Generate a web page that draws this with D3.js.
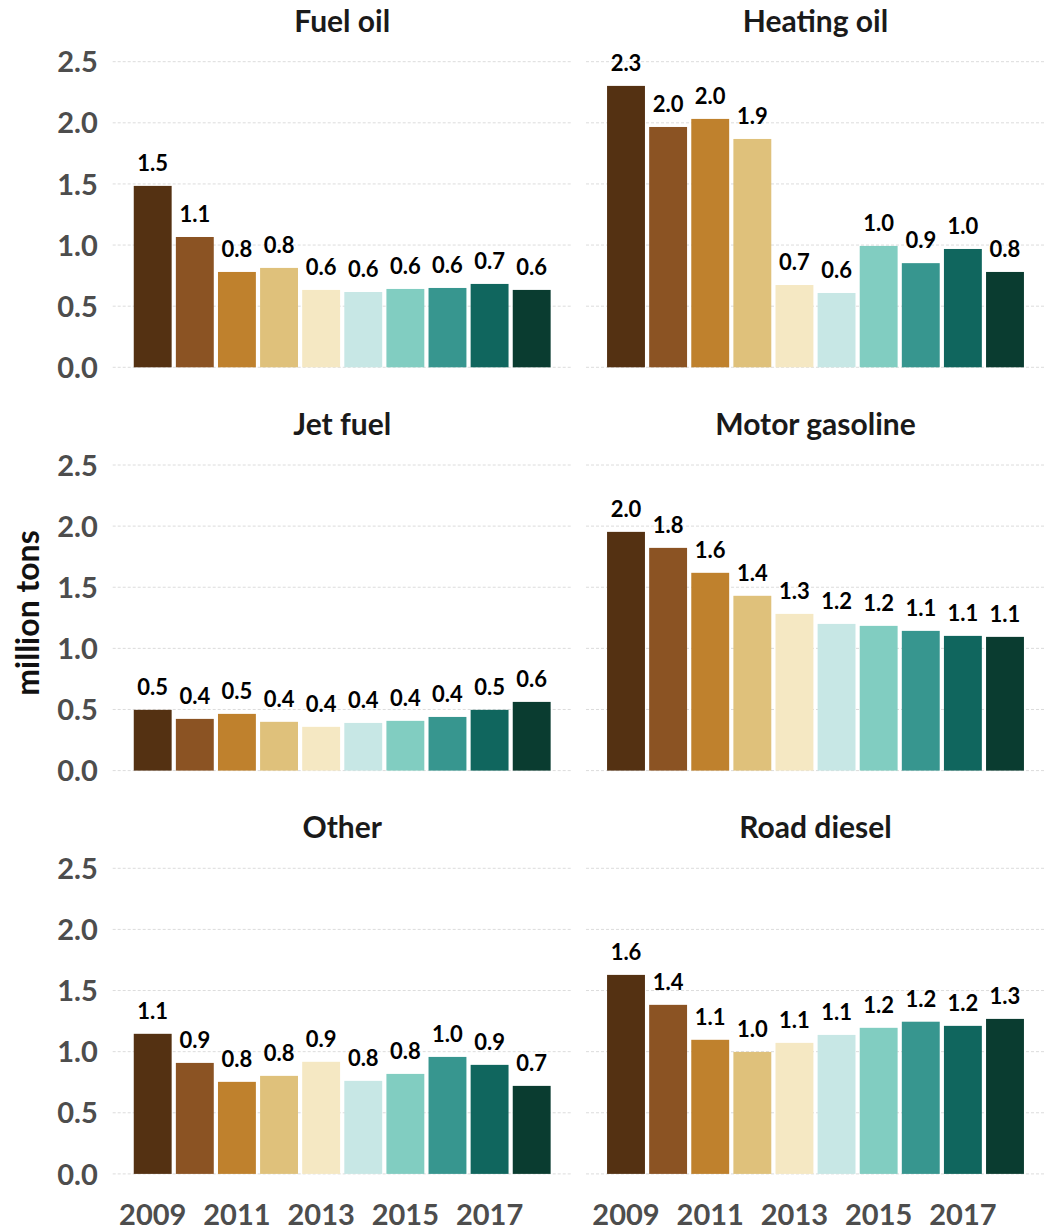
<!DOCTYPE html>
<html>
<head>
<meta charset="utf-8">
<script src="https://cdn.jsdelivr.net/npm/d3@7"></script>
<style>
  html, body { margin: 0; padding: 0; background: #fff; }
  svg { display: block; }
  text { font-family: Lato, "Noto Sans", sans-serif; font-weight: 700; }
</style>
</head>
<body>
<svg id="chart" width="1044" height="1231"></svg>
<script>
// ---- data ----
const years = [2009, 2010, 2011, 2012, 2013, 2014, 2015, 2016, 2017, 2018];
const yearTicks = [2009, 2011, 2013, 2015, 2017];
const yTicks = [0, 0.5, 1.0, 1.5, 2.0, 2.5];
const fuels = ["Fuel oil", "Heating oil", "Jet fuel", "Motor gasoline", "Other", "Road diesel"];
const fuelOil       = [1.484, 1.066, 0.780, 0.813, 0.633, 0.616, 0.641, 0.649, 0.682, 0.633];
const heatingOil    = [2.302, 1.966, 2.032, 1.868, 0.673, 0.608, 0.993, 0.852, 0.968, 0.780];
const jetFuel       = [0.497, 0.423, 0.464, 0.399, 0.358, 0.390, 0.407, 0.439, 0.497, 0.562];
const motorGasoline = [1.953, 1.822, 1.618, 1.430, 1.282, 1.200, 1.184, 1.143, 1.102, 1.094];
const other         = [1.146, 0.908, 0.753, 0.802, 0.917, 0.761, 0.818, 0.957, 0.892, 0.720];
const roadDiesel    = [1.628, 1.383, 1.097, 0.998, 1.072, 1.137, 1.195, 1.245, 1.211, 1.268];
const seriesValues = [fuelOil, heatingOil, jetFuel, motorGasoline, other, roadDiesel];
const yearColors = ["#543112", "#8b5323", "#bf812d", "#dfc17b", "#f5e8c3", "#c7e7e5", "#81cdc1", "#37968f", "#10665e", "#0a3c30"];
const yLabel = "million tons";

// ---- layout ----
const svg = d3.select("#chart");
const colX = [112.7, 586];
const panelW = 459;
const rowY = [61.7, 465, 868.3];
const panelH = 305.6;

const color = d3.scaleOrdinal().domain(years).range(yearColors);

fuels.forEach((name, i) => {
  const col = i % 2, row = Math.floor(i / 2);
  const x0 = colX[col], y0 = rowY[row];
  const x = d3.scaleBand().domain(years).range([x0, x0 + panelW]).paddingInner(0.1).paddingOuter(0.5);
  const y = d3.scaleLinear().domain([0, 2.5]).range([y0 + panelH, y0]);
  const g = svg.append("g");

  // gridlines
  g.selectAll("line.grid").data(yTicks).join("line")
    .attr("x1", x0).attr("x2", x0 + panelW)
    .attr("y1", d => y(d)).attr("y2", d => y(d))
    .attr("stroke", "#dcdcdc").attr("stroke-width", 1)
    .attr("stroke-dasharray", "3,2");

  // y axis labels (left column only)
  if (col === 0) {
    const ya = d3.axisLeft(y).tickValues(yTicks).tickFormat(d3.format(".1f")).tickSize(0).tickPadding(0);
    const ag = g.append("g").attr("transform", `translate(${x0 - 15},0)`).call(ya);
    ag.select(".domain").remove();
    ag.selectAll("text").attr("font-size", 29).attr("fill", "#4d4d4d")
      .style("font-family", "Lato, sans-serif").style("font-weight", 700).attr("dy", "0.35em");
  }

  // x axis labels (bottom row only)
  if (row === 2) {
    const xa = d3.axisBottom(x).tickValues(yearTicks).tickSize(0).tickPadding(0);
    const ag = g.append("g").attr("transform", `translate(0,${y0 + panelH})`).call(xa);
    ag.select(".domain").remove();
    ag.selectAll("text").attr("font-size", 29).attr("fill", "#4d4d4d")
      .style("font-family", "Lato, sans-serif").style("font-weight", 700)
      .attr("dy", 0).attr("y", 51);
  }

  // title
  g.append("text")
    .attr("x", x0 + panelW / 2).attr("y", y0 - 30)
    .attr("text-anchor", "middle").attr("font-size", 30).attr("fill", "#1a1a1a")
    .text(name);

  const vals = seriesValues[i];
  // bars
  g.selectAll("rect.bar").data(years).join("rect")
    .attr("x", d => x(d)).attr("width", x.bandwidth())
    .attr("y", (d, j) => y(vals[j])).attr("height", (d, j) => y(0) - y(vals[j]))
    .attr("fill", d => color(d));

  // value labels
  g.selectAll("text.val").data(years).join("text")
    .attr("x", d => x(d) + x.bandwidth() / 2)
    .attr("y", (d, j) => y(vals[j]) - 15)
    .attr("text-anchor", "middle").attr("font-size", 22).attr("fill", "#000")
    .text((d, j) => d3.format(".1f")(vals[j]));
});

// y axis title
svg.append("text")
  .attr("transform", "translate(39,613) rotate(-90)")
  .attr("text-anchor", "middle").attr("font-size", 32).attr("fill", "#111")
  .text(yLabel);
</script>
</body>
</html>
